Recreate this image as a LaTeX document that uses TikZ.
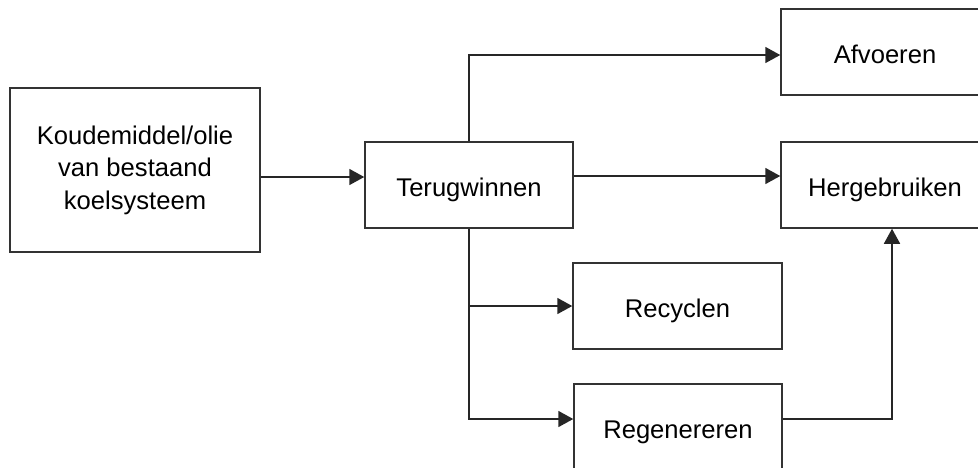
\documentclass[tikz,border=0pt]{standalone}
\usepackage{fontspec}
\setmainfont{Liberation Sans}
\usetikzlibrary{arrows.meta}
\begin{document}
\begin{tikzpicture}[x=0.5pt,y=-0.5pt,
  box/.style={draw=black!80, line width=0.75pt, fill=white, inner sep=0pt,
    align=center, font=\fontsize{12.8pt}{16.3pt}\selectfont},
  stage/.style={box, minimum width=104pt, minimum height=43pt,
    text height=11.6pt, text depth=0pt},
  flow/.style={draw=black!85, line width=0.85pt,
    -{Triangle[length=7.5pt,width=8pt]}},
  link/.style={draw=black!85, line width=0.85pt}]
\useasboundingbox (0,0) rectangle (978,467);
% process boxes
\node[box, minimum width=125pt, minimum height=82pt] (src) at (135,170)
  {Koudemiddel/olie\\van bestaand\\koelsysteem};
\node[stage] (ter) at (469,185) {Terugwinnen};
\node[stage] (afv) at (885,52) {Afvoeren};
\node[stage] (her) at (885,185) {Hergebruiken};
\node[stage, minimum width=104.5pt] (rec) at (677.5,306) {Recyclen};
\node[stage] (reg) at (678,427) {Regenereren};
% connectors
\draw[flow] (src.east |- 0,177) -- (ter.west |- 0,177);
\draw[flow] (ter.north) |- (afv.west |- 0,55);
\draw[flow] (ter.east |- 0,176) -- (her.west |- 0,176);
\coordinate (split) at (ter.south |- rec.west);
\draw[link] (ter.south) -- (split);
\draw[flow] (split) -- (rec.west);
\draw[flow] (split) |- (reg.west |- 0,419);
\draw[flow] (reg.east |- 0,419) -| (her.south -| 892,0);
\end{tikzpicture}
\end{document}
